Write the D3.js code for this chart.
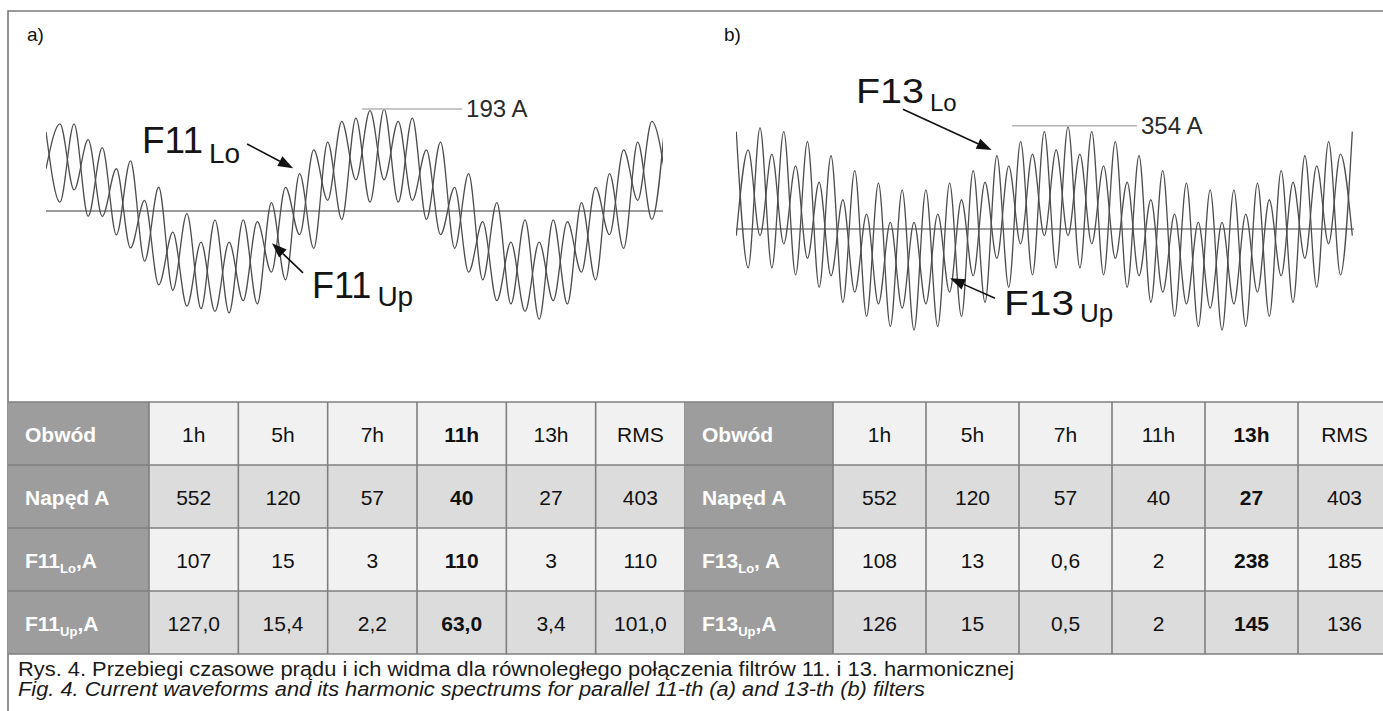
<!DOCTYPE html>
<html>
<head>
<meta charset="utf-8">
<script src="https://cdn.jsdelivr.net/npm/d3@7"></script>
<style>
  body { margin: 0; background: #fff; }
  svg { display: block; font-family: "Liberation Sans", Arial, sans-serif; }
</style>
</head>
<body>
<svg id="fig" width="1383" height="711"></svg>
<script>
// ---- waveform data: extrema (peaks / troughs) ----
// panel a) time of each extremum, ms
const tA = [0.00, 0.90, 1.81, 2.72, 3.63, 4.54, 5.45, 6.36, 7.27, 8.18, 9.09, 10.00, 10.90, 11.81, 12.72,
  13.63, 14.54, 15.45, 16.36, 17.27, 18.17, 19.08, 19.99, 20.90, 21.81, 22.72, 23.63, 24.54, 25.45, 26.36,
  27.26, 28.17, 29.08, 29.99, 30.90, 31.81, 32.72, 33.63, 34.54, 35.45, 36.35, 37.26, 38.17, 39.08, 39.99]
// F11 Lo current, A
const f11LoWave = [150, 16.7, 165, -10, 120, -45, 95, -95, 45, -150, -5, -185, -16.7, -193, -16.7,
  -176, 15.9, -130.4, 70.8, -70.8, 130.4, -15.9, 176, 16.7, 193, 16.7, 176, -15.9, 130.4, -70.8,
  70.8, -130.4, 15.9, -176, -16.7, -205, -16.7, -176, 15.9, -130.4, 70.8, -70.8, 130.4, -15.9, 190]
// F11 Up current, A
const f11UpWave = [80, 165, 40, 135, -10, 80, -70, 20, -140, -40, -180, -58.9, -190, -58.9, -169.8,
  -20.2, -115.8, 44.9, -44.9, 115.8, 20.2, 169.8, 58.9, 190, 58.9, 169.8, 20.2, 115.8, -44.9, 44.9,
  -115.8, -20.2, -169.8, -58.9, -190, -58.9, -169.8, -20.2, -115.8, 44.9, -44.9, 115.8, 20.2, 169.8, 58.9]

// panel b) time of each extremum, ms
const tB = [0.02, 0.79, 1.56, 2.33, 3.10, 3.87, 4.64, 5.40, 6.17, 6.94, 7.71, 8.48, 9.25, 10.02, 10.79,
  11.56, 12.33, 13.10, 13.87, 14.64, 15.40, 16.17, 16.94, 17.71, 18.48, 19.25, 20.02, 20.79, 21.56, 22.33,
  23.10, 23.87, 24.63, 25.40, 26.17, 26.94, 27.71, 28.48, 29.25, 30.02, 30.79, 31.56, 32.33, 33.10, 33.86,
  34.63, 35.40, 36.17, 36.94, 37.71, 38.48, 39.25, 40.02]
// F13 Lo current, A
const f13LoWave = [333.6, -133.1, 346, -133.1, 333.6, -157.2, 299.4, -199.7, 251, -251, 199.7, -299.4, 157.2, -333.6, 133.1,
  -346, 133.1, -333.6, 157.2, -299.4, 199.7, -251, 251, -199.7, 299.4, -157.2, 333.6, -133.1, 350, -133.1,
  333.6, -157.2, 299.4, -199.7, 251, -251, 199.7, -299.4, 157.2, -333.6, 133.1, -346, 133.1, -333.6, 157.2,
  -299.4, 199.7, -251, 251, -199.7, 299.4, -157.2, 333.6]
// F13 Up current, A
const f13UpWave = [-22.7, 271, -22.7, 256.6, -50.7, 216.6, -100.3, 160.2, -160.2, 100.3, -216.6, 50.7, -256.6, 22.7, -271,
  22.7, -256.6, 50.7, -216.6, 100.3, -160.2, 160.2, -100.3, 216.6, -50.7, 256.6, -22.7, 271, -22.7, 256.6,
  -50.7, 216.6, -100.3, 160.2, -160.2, 100.3, -216.6, 50.7, -256.6, 22.7, -271, 22.7, -256.6, 50.7, -216.6,
  100.3, -160.2, 160.2, -100.3, 216.6, -50.7, 256.6, -22.7]

const peakA = 193   // A, marked peak in a)
const peakB = 354   // A, marked peak in b)

// ---- table data ----
const harmonics = ["1h", "5h", "7h", "11h", "13h", "RMS"]
const napedA = ["552", "120", "57", "40", "27", "403"]
const f11Lo = ["107", "15", "3", "110", "3", "110"]
const f11Up = ["127,0", "15,4", "2,2", "63,0", "3,4", "101,0"]
const f13Lo = ["108", "13", "0,6", "2", "238", "185"]
const f13Up = ["126", "15", "0,5", "2", "145", "136"]

const caption1 = "Rys. 4. Przebiegi czasowe prądu i ich widma dla równoległego połączenia filtrów 11. i 13. harmonicznej"
const caption2 = "Fig. 4. Current waveforms and its harmonic spectrums for parallel 11-th (a) and 13-th (b) filters"

const svg = d3.select("#fig")

// frame (top and left edges only, rest is cut off)
svg.append("path")
  .attr("d", "M8,711 V11 H1383")
  .attr("fill", "none")
  .attr("stroke", "#7a7a7a")
  .attr("stroke-width", 1.6)

// arrow = line + filled head
function arrow(g, x1, y1, x2, y2) {
  const a = Math.atan2(y2 - y1, x2 - x1), L = 15, W = 5.5
  const bx = x2 - L * Math.cos(a), by = y2 - L * Math.sin(a)
  g.append("line")
    .attr("x1", x1).attr("y1", y1).attr("x2", bx).attr("y2", by)
    .attr("stroke", "#111").attr("stroke-width", 1.6)
  g.append("path")
    .attr("d", `M${x2},${y2} L${bx - W * Math.sin(a)},${by + W * Math.cos(a)} L${bx + W * Math.sin(a)},${by - W * Math.cos(a)} Z`)
    .attr("fill", "#111")
}

function label(g, x, y, main, sub, mainSize, subSize, subDy, mainLen) {
  const t = g.append("text").attr("x", x).attr("y", y).attr("fill", "#151515")
  const m = t.append("tspan").attr("font-size", mainSize).text(main)
  if (mainLen) m.attr("textLength", mainLen).attr("lengthAdjust", "spacingAndGlyphs")
  t.append("tspan").attr("font-size", subSize).attr("dx", 6).attr("dy", subDy).text(sub)
}

function drawPanel(p) {
  const g = svg.append("g")
  const x = d3.scaleLinear().domain(p.tDomain).range(p.xRange)
  const y = d3.scaleLinear().domain(p.iDomain).range(p.yRange)

  g.append("text").attr("x", p.tagX).attr("y", 41)
    .attr("font-size", 19).attr("fill", "#111").text(p.tag)

  g.append("clipPath").attr("id", "clip" + p.tag[0])
    .append("rect")
    .attr("x", p.xRange[0]).attr("y", 40)
    .attr("width", p.xRange[1] - p.xRange[0]).attr("height", 330)

  // zero line
  g.append("line")
    .attr("x1", x(p.tDomain[0])).attr("x2", x(p.tDomain[1]))
    .attr("y1", y(0)).attr("y2", y(0))
    .attr("stroke", "#9c9c9c").attr("stroke-width", 1.8)

  const line = d3.line()
    .x((d, i) => x(p.t[i]))
    .y(d => y(d))
    .curve(d3.curveMonotoneX)

  g.append("g").attr("clip-path", "url(#clip" + p.tag[0] + ")")
    .selectAll("path")
    .data(p.series)
    .join("path")
    .attr("d", line)
    .attr("fill", "none")
    .attr("stroke", "#4d4d4d")
    .attr("stroke-width", 1.3)

  // peak marker
  g.append("line")
    .attr("x1", x(p.peakT[0])).attr("x2", x(p.peakT[1]))
    .attr("y1", y(p.peak)).attr("y2", y(p.peak))
    .attr("stroke", "#b4b4b4").attr("stroke-width", 1.6)
  g.append("text")
    .attr("x", x(p.peakT[1]) + 4).attr("y", y(p.peak) + 8)
    .attr("font-size", 24).attr("fill", "#2a2a2a")
    .text(p.peak + " A")

  // arrows to the two curves
  p.arrows.forEach(a => arrow(g, x(a[0]), y(a[1]), x(a[2]), y(a[3])))
  p.labels.forEach(l => label(g, ...l))
}

drawPanel({
  tag: "a)", tagX: 27,
  t: tA, series: [f11LoWave, f11UpWave],
  tDomain: [0, 39.8], xRange: [46, 663],
  iDomain: [-220, 220], yRange: [211 + 116.2, 211 - 116.2],
  peak: peakA, peakT: [20.39, 26.84],
  arrows: [[12.97, 127, 15.94, 81], [16.58, -117, 14.58, -61]],
  labels: [[142, 153, "F11", "Lo", 37, 28, 10, null], [312, 298, "F11", "Up", 36, 28, 8, null]]
})

drawPanel({
  tag: "b)", tagX: 724,
  t: tB, series: [f13LoWave, f13UpWave],
  tDomain: [0, 40.13], xRange: [736, 1354],
  iDomain: [-380, 380], yRange: [229 + 110.9, 229 - 110.9],
  peak: peakB, peakT: [17.92, 26.04],
  arrows: [[10.84, 410, 16.60, 271], [16.82, -237, 13.90, -169]],
  labels: [[856, 103, "F13", "Lo", 35, 24, 8, 68], [1004, 315, "F13", "Up", 35, 26, 7, 70]]
})

// ---- tables ----
const rowKeys = ["head", "naped", "lo", "up"]
const rowY = d3.scaleBand().domain(rowKeys).range([402, 654])
const rowFill = {head: "#f1f1f1", naped: "#dcdcdc", lo: "#f1f1f1", up: "#dcdcdc"}

const tables = [
  {x0: 8, x1: 149, x2: 685, bold: "11h",
   rows: [[["Obwód"], harmonics], [["Napęd A"], napedA], [["F11", "Lo", ",A"], f11Lo], [["F11", "Up", ",A"], f11Up]]},
  {x0: 685, x1: 833, x2: 1391, bold: "13h",
   rows: [[["Obwód"], harmonics], [["Napęd A"], napedA], [["F13", "Lo", ", A"], f13Lo], [["F13", "Up", ",A"], f13Up]]}
]

tables.forEach(tb => {
  const col = d3.scaleBand().domain(harmonics).range([tb.x1, tb.x2])
  const g = svg.append("g")

  tb.rows.forEach((r, ri) => {
    const key = rowKeys[ri], y0 = rowY(key), h = rowY.bandwidth()
    g.append("rect").attr("x", tb.x0).attr("y", y0).attr("width", tb.x1 - tb.x0).attr("height", h)
      .attr("fill", "#9d9d9d")
    g.selectAll(null).data(harmonics).join("rect")
      .attr("x", d => col(d)).attr("y", y0)
      .attr("width", col.bandwidth()).attr("height", h)
      .attr("fill", rowFill[key])

    // row label, white bold, with subscript
    const lt = g.append("text").attr("x", tb.x0 + 17).attr("y", y0 + h / 2 + 8)
      .attr("fill", "#fff").attr("font-weight", "bold").attr("font-size", 21)
    lt.append("tspan").text(r[0][0])
    if (r[0].length > 1) {
      lt.append("tspan").attr("font-size", 13).attr("dy", 5).text(r[0][1])
      lt.append("tspan").attr("dy", -5).text(r[0][2])
    }

    g.selectAll(null).data(r[1]).join("text")
      .attr("x", (d, i) => col(harmonics[i]) + col.bandwidth() / 2)
      .attr("y", y0 + h / 2 + 8)
      .attr("text-anchor", "middle")
      .attr("font-size", 21)
      .attr("fill", "#111")
      .attr("font-weight", (d, i) => harmonics[i] === tb.bold ? "bold" : "normal")
      .text(d => d)
  })

  // grid
  const vx = [tb.x1].concat(harmonics.map(h => col(h) + col.bandwidth()))
  g.selectAll(null).data(vx).join("line")
    .attr("x1", d => d).attr("x2", d => d)
    .attr("y1", 402).attr("y2", 654)
    .attr("stroke", "#7f7f7f").attr("stroke-width", 1.6)
})

svg.selectAll(null).data([402].concat(rowKeys.map(k => rowY(k) + rowY.bandwidth()))).join("line")
  .attr("x1", 8).attr("x2", 1383)
  .attr("y1", d => d).attr("y2", d => d)
  .attr("stroke", "#7f7f7f").attr("stroke-width", 1.6)

// ---- caption ----
svg.append("text").attr("x", 18).attr("y", 676)
  .attr("font-size", 20).attr("fill", "#1a1a1a")
  .attr("textLength", 996).attr("lengthAdjust", "spacingAndGlyphs")
  .text(caption1)
svg.append("text").attr("x", 18).attr("y", 696)
  .attr("font-size", 20).attr("font-style", "italic").attr("fill", "#1a1a1a")
  .attr("textLength", 907).attr("lengthAdjust", "spacingAndGlyphs")
  .text(caption2)
</script>
</body>
</html>
